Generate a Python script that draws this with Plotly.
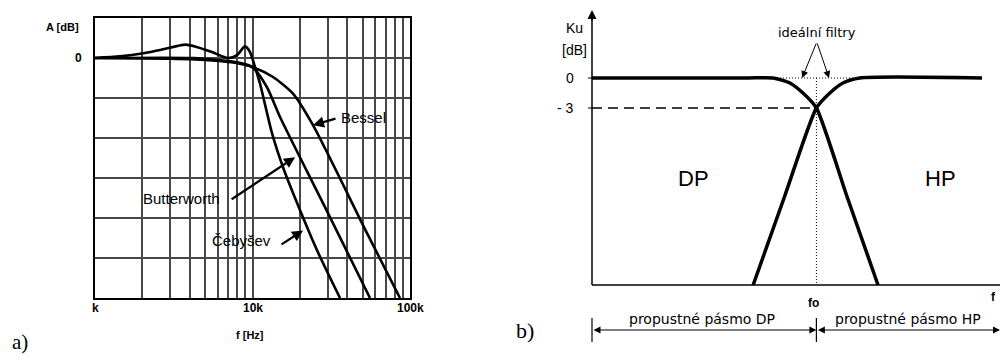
import numpy as np
import plotly.graph_objects as go

W, H = 1001, 356

# ---------- a) measured responses of 4th-order low-pass filters ----------
cheb_f = [1000, 1441, 2078, 2663, 3728, 4317, 5524, 6985, 7975, 8957, 9640,
          10373, 11160, 13298, 15620, 19450, 26060, 35937]
cheb_db = [0, 0.4, 1.25, 2.1, 3.35, 2.9, 1.5, 0, 0.7, 2.9, 1.5,
           -2.25, -6.4, -18.8, -27.3, -36.8, -48.6, -60]

butt_f = [1000, 4317, 5524, 7750, 9940, 12330, 14950, 28860, 55720]
butt_db = [0, 0, -0.4, -1.0, -2.25, -7.25, -14.75, -37.3, -60]

bess_f = [1000, 3000, 5524, 7750, 9940, 13496, 18077, 24220, 53330, 86400]
bess_db = [0, -0.2, -0.6, -1.2, -2.25, -4.75, -8.9, -16.8, -43.8, -60]

grid_f = [k * 10 ** d for d in (3, 4) for k in range(1, 10)] + [100000]
major_f = [1000, 10000, 100000]
major_labels = ["k", "10k", "100k"]
grid_db = list(range(-60, 11, 10))

# ---------- b) schematic low-pass / high-pass ----------
f0 = 5.5
lp_x = [0, 3.8, 4.44, 4.85, 5.17, 5.5, 6.25, 7.01]
lp_db = [0, 0, 0, -0.5, -1.5, -3.0, -11.85, -20.7]
hp_x = [3.95, 4.72, 5.5, 5.83, 6.15, 6.56, 9.56]
hp_db = [-20.7, -11.85, -3.0, -1.5, -0.5, 0, 0]
ideal_x = [3.8, 6.55]
base_db = -20.7
f_end = 10.0
y_top = 6.8
span_y = -25.2

fig = go.Figure()

curve = dict(color="black", width=2.6, shape="spline", smoothing=0.7)
for fx, dbv in ((cheb_f, cheb_db), (butt_f, butt_db), (bess_f, bess_db)):
    fig.add_trace(go.Scatter(x=fx, y=dbv, mode="lines", line=curve,
                             xaxis="x", yaxis="y", hoverinfo="skip"))

# right panel: axes drawn as lines
thin = dict(color="black", width=1.5)
fig.add_trace(go.Scatter(x=[0, f_end], y=[base_db, base_db], mode="lines",
                         line=thin, xaxis="x2", yaxis="y2"))
fig.add_trace(go.Scatter(x=[0, 0], y=[base_db, y_top - 0.6], mode="lines",
                         line=thin, xaxis="x2", yaxis="y2"))
for tv in (0, -3):
    fig.add_trace(go.Scatter(x=[-0.1, 0], y=[tv, tv], mode="lines",
                             line=dict(color="black", width=1), xaxis="x2", yaxis="y2"))
# -3 dB reference
fig.add_trace(go.Scatter(x=[0, f0], y=[-3, -3], mode="lines",
                         line=dict(color="black", width=1.3, dash="10px,6px"),
                         xaxis="x2", yaxis="y2"))
# ideal filters (dotted)
dot = dict(color="black", width=1, dash="1px,2px")
fig.add_trace(go.Scatter(x=ideal_x, y=[0, 0], mode="lines", line=dot,
                         xaxis="x2", yaxis="y2"))
fig.add_trace(go.Scatter(x=[f0, f0], y=[0, base_db], mode="lines", line=dot,
                         xaxis="x2", yaxis="y2"))
# real responses
thick = dict(color="black", width=3.5, shape="spline", smoothing=0.6)
fig.add_trace(go.Scatter(x=lp_x, y=lp_db, mode="lines", line=thick,
                         xaxis="x2", yaxis="y2"))
fig.add_trace(go.Scatter(x=hp_x, y=hp_db, mode="lines", line=thick,
                         xaxis="x2", yaxis="y2"))
# pass-band span bars
for bx in (0, f0):
    fig.add_trace(go.Scatter(x=[bx, bx], y=[-24.0, -26.4], mode="lines",
                             line=dict(color="black", width=1.2),
                             xaxis="x2", yaxis="y2"))

sans = "Liberation Sans, Arial, sans-serif"
dv = "DejaVu Sans, sans-serif"
serif = "Liberation Serif, Times New Roman, serif"

shapes = []
for x0, x1, y0, y1 in ((322, 408, -19.6, -10.4),
                       (96, 250, -39.6, -30.4),
                       (203, 305, -49.6, -40.4)):
    shapes.append(dict(type="rect", xref="paper", yref="y", x0=x0 / W, x1=x1 / W,
                       y0=y0, y1=y1, fillcolor="white", line=dict(width=0),
                       layer="between"))

ann = []
def text(x, y, s, size, xref="paper", yref="paper", font=sans, weight="normal"):
    ann.append(dict(x=x, y=y, xref=xref, yref=yref, text=s, showarrow=False,
                    xanchor="center", yanchor="middle",
                    font=dict(family=font, size=size, color="black", weight=weight)))

# left panel labels
text(62 / W, 1 - 27 / H, "A [dB]", 11, weight="bold")
for fv, lab in zip(major_f, major_labels):
    text(np.log10(fv), 1 - 308 / H, lab, 12, xref="x", weight="bold")
text(250 / W, 1 - 335 / H, "f [Hz]", 11, weight="bold")
text(20 / W, 1 - 342 / H, "a)", 21, font=serif)
text(363.5 / W, -14.8, "Bessel", 15, yref="y")
text(181.5 / W, -35.1, "Butterworth", 15, yref="y")
text(241.5 / W, -45.6, "Čebyšev", 15, yref="y")

for fh, dbh, axp, ayp in ((24220, -16.8, 24, -7),
                          (18640, -24.8, -65, 43),
                          (20940, -43.1, -23, 15)):
    ann.append(dict(x=np.log10(fh), y=dbh, xref="x", yref="y", ax=axp, ay=ayp,
                    text="", showarrow=True, arrowhead=2, arrowsize=1,
                    arrowwidth=2.2, arrowcolor="black"))

# right panel labels
text(-0.42, 5.0, "Ku", 14, "x2", "y2")
text(-0.42, 2.8, "[dB]", 14, "x2", "y2")
text(-0.54, 0, "0", 14, "x2", "y2")
text(-0.66, -3, "- 3", 14, "x2", "y2")
text(5.51, 4.6, "ideální filtry", 13, "x2", "y2", font=dv)
text(2.48, -10.0, "DP", 22, "x2", "y2")
text(8.55, -10.0, "HP", 22, "x2", "y2")
text(5.42, -22.5, "fo", 12, "x2", "y2", weight="bold")
text(9.83, -21.9, "f", 12, "x2", "y2", weight="bold")
text(2.70, -24.1, "propustné pásmo DP", 14, "x2", "y2", font=dv)
text(7.75, -24.1, "propustné pásmo HP", 14, "x2", "y2", font=dv)
text(525 / W, 1 - 330 / H, "b)", 22, font=serif)

def arrow(x, y, tx, ty, width=1.0, size=1.4, side="end"):
    ann.append(dict(x=x, y=y, ax=tx, ay=ty, xref="x2", yref="y2",
                    axref="x2", ayref="y2", text="", showarrow=True,
                    arrowhead=2, arrowsize=size, arrowwidth=width,
                    arrowcolor="black", arrowside=side, standoff=0,
                    startstandoff=0))

arrow(0, y_top, 0, y_top - 1.2, width=1.5, size=1.2)
arrow(5.15, 0, 5.51, 3.6)
arrow(5.81, 0, 5.51, 3.6)
arrow(f0, span_y, 0, span_y, side="end+start")
arrow(f_end, span_y, f0, span_y, side="end+start")

x2_lo = -1.5
fig.update_layout(
    width=W, height=H, margin=dict(l=0, r=0, t=0, b=0),
    paper_bgcolor="white", plot_bgcolor="white", showlegend=False,
    xaxis=dict(type="log", range=[3, 5], domain=[95 / W, 410 / W], anchor="y",
               tickvals=grid_f, ticktext=[""] * len(grid_f),
               showgrid=True, gridcolor="#484848", gridwidth=2, zeroline=False,
               showline=True, linecolor="black", linewidth=2, mirror=True,
               ticks=""),
    yaxis=dict(range=[-60, 10], domain=[1 - 298 / H, 1 - 18 / H], anchor="x",
               tickvals=grid_db, ticktext=["0" if v == 0 else "" for v in grid_db],
               showgrid=True, gridcolor="#484848", gridwidth=2, zeroline=False,
               showline=True, linecolor="black", linewidth=2, mirror=True,
               ticks="", ticklabelstandoff=9,
               tickfont=dict(family=sans, size=12, color="black", weight="bold")),
    xaxis2=dict(range=[x2_lo, f_end], domain=[(592 + x2_lo * 40.8) / W, 1000 / W],
                anchor="y2", visible=False),
    yaxis2=dict(range=[-27.8, 7.8], domain=[0, 1], anchor="x2", visible=False),
    shapes=shapes, annotations=ann,
)

fig.write_html("out.html")
